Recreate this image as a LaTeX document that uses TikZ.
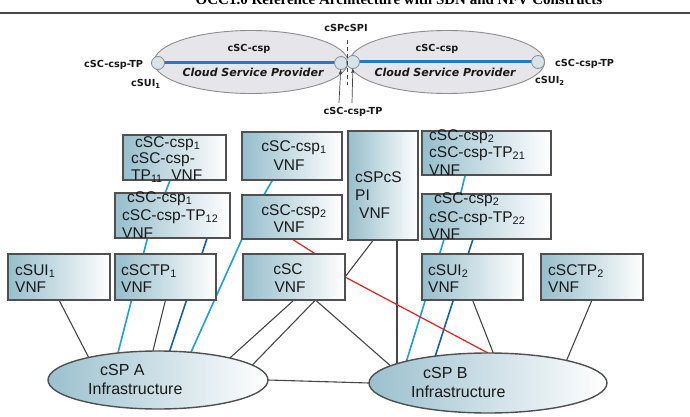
\documentclass[tikz,border=0pt]{standalone}
\usepackage{fontspec}
\setmainfont{Liberation Sans}
\newfontfamily\lblfont{DejaVu Sans}
\newfontfamily\titlefont{Liberation Serif}
\usetikzlibrary{shapes.geometric,arrows.meta}
\definecolor{boxD}{RGB}{80,80,80}
\definecolor{boxL}{RGB}{150,190,204}
\definecolor{ellL}{RGB}{155,192,206}
\definecolor{lineG}{RGB}{70,70,70}
\definecolor{lblue}{RGB}{25,160,225}
\definecolor{dblue}{RGB}{20,95,175}
\definecolor{redL}{RGB}{230,30,30}
\definecolor{topFill}{RGB}{230,230,234}
\definecolor{topDraw}{RGB}{140,140,145}
\definecolor{topBlue}{RGB}{40,120,200}
\definecolor{circFill}{RGB}{212,228,235}
\definecolor{txtC}{RGB}{25,25,25}
\pgfdeclarelayer{bg}
\pgfsetlayers{bg,main}
\begin{document}
\begin{tikzpicture}[x=1pt,y=-1pt,
  vbox/.style={draw=boxD, line width=1.4pt, left color=boxL, right color=white, inner sep=0pt, outer sep=0pt, rectangle},
  infra/.style={ellipse, draw=boxD, line width=1.4pt, left color=ellL, right color=white, inner sep=0pt, outer sep=0pt},
  tell/.style={ellipse, draw=topDraw, line width=0.9pt, fill=topFill, inner sep=0pt, outer sep=0pt},
  tp/.style={circle, draw=topDraw, line width=0.8pt, fill=circFill, minimum size=13pt, inner sep=0pt, outer sep=0pt},
  txt/.style={inner sep=0pt, anchor=base west, text=txtC, font=\fontsize{15.5}{18}\selectfont},
  itxt/.style={inner sep=0pt, anchor=base west, text=txtC, font=\fontsize{16}{19}\selectfont},
  tl/.style={inner sep=0pt, text=txtC, font=\lblfont\bfseries\fontsize{9.7}{12}\selectfont},
  cspf/.style={inner sep=0pt, anchor=base, text=txtC, font=\lblfont\bfseries\itshape\fontsize{11}{13}\selectfont},
  gl/.style={draw=lineG, line width=1.1pt},
  rl/.style={draw=redL, line width=1.2pt},
  lb/.style={draw=lblue, line width=1.6pt},
  db/.style={draw=dblue, line width=1.6pt},
  arw/.style={draw=lineG, line width=0.7pt, -{Stealth[length=5pt,width=3.5pt]}},
  dsh/.style={draw=lineG, line width=1pt, dash pattern=on 4pt off 3pt}
]
\useasboundingbox (0,0) rectangle (690,417);

% title and header rule
\node[inner sep=0pt, anchor=base, font=\titlefont\bfseries\fontsize{15}{18}\selectfont] (title) at (399,5) {OCC1.0 Reference Architecture with SDN and NFV Constructs};
\coordinate (hl1) at (0,13);
\coordinate (hl2) at (690,13);
\draw[line width=1.2pt, draw=lineG] (hl1) -- (hl2);

% top ellipses
\node[tell, minimum width=194pt, minimum height=63pt] (tL) at (251,62) {};
\node[tell, minimum width=195pt, minimum height=63pt] (tR) at (447,62) {};
\coordinate (p1) at (158,63);
\coordinate (p2) at (341,63);
\coordinate (p3) at (353,62);
\coordinate (p4) at (538,62);
\draw[draw=topBlue, line width=3pt] (p1) -- (p2);
\draw[draw=topBlue, line width=3pt] (p3) -- (p4);
\node[tp] (c1) at (p1) {};
\node[tp] (c2) at (p2) {};
\node[tp] (c3) at (p3) {};
\node[tp] (c4) at (p4) {};

\node[tl, anchor=base] (cscL) at (249,52) {cSC-csp};
\node[tl, anchor=base] (cscR) at (437,52) {cSC-csp};
\node[cspf] (cspL) at (253,77) {Cloud Service Provider};
\node[cspf] (cspR) at (445,77) {Cloud Service Provider};
\node[tl, anchor=base] (spi) at (346,32) {cSPcSPI};
\node[tl, anchor=base west] (tpL) at (84,68) {cSC-csp-TP};
\node[tl, anchor=base west] (suL) at (131,87) {cSUI\textsubscript{1}};
\node[tl, anchor=base west] (tpR) at (555,67) {cSC-csp-TP};
\node[tl, anchor=base west] (suR) at (535,84) {cSUI\textsubscript{2}};
\node[tl, anchor=base] (tpB) at (353,114) {cSC-csp-TP};

\coordinate (d1) at (347,40);
\coordinate (d2) at (347,85);
\draw[dsh] (d1) -- (d2);
\coordinate (a1) at (339,103);
\coordinate (a2) at (352,103);
\draw[arw] (a1) -- (c2);
\draw[arw] (a2) -- (c3);

% VNF boxes
\node[vbox, minimum width=103pt, minimum height=45pt] (bA) at (174.5,157.5) {};
\node[vbox, minimum width=115pt, minimum height=45pt] (bB) at (172.5,215.5) {};
\node[vbox, minimum width=100pt, minimum height=48pt] (bC) at (292,156) {};
\node[vbox, minimum width=100pt, minimum height=44pt] (bD) at (292,217) {};
\node[vbox, minimum width=70pt, minimum height=109pt] (bE) at (383,185.5) {};
\node[vbox, minimum width=129pt, minimum height=44pt] (bF) at (486.5,153) {};
\node[vbox, minimum width=129pt, minimum height=45pt] (bG) at (486.5,216.5) {};
\node[vbox, minimum width=102pt, minimum height=46pt] (bH) at (59,277) {};
\node[vbox, minimum width=101pt, minimum height=46pt] (bI) at (165.5,277) {};
\node[vbox, minimum width=102pt, minimum height=46pt] (bJ) at (294,277) {};
\node[vbox, minimum width=101pt, minimum height=46pt] (bK) at (472.5,277) {};
\node[vbox, minimum width=102pt, minimum height=46pt] (bL) at (592,277) {};

% infrastructure ellipses
\node[infra, minimum width=220pt, minimum height=58pt] (eA) at (158,380) {};
\node[infra, minimum width=238pt, minimum height=60pt] (eB) at (488,383) {};

% box texts
\node[txt] (tA1) at (135,147) {cSC-csp\textsubscript{1}};
\node[txt] (tA2) at (131,163) {cSC-csp-};
\node[txt] (tA3) at (131,180) {TP\textsubscript{11}\ \ VNF};
\node[txt] (tB1) at (127,202) {cSC-csp\textsubscript{1}};
\node[txt] (tB2) at (122,220) {cSC-csp-TP\textsubscript{12}};
\node[txt] (tB3) at (122,238) {VNF};
\node[txt, anchor=base] (tC1) at (294,151) {cSC-csp\textsubscript{1}};
\node[txt, anchor=base] (tC2) at (289,170) {VNF};
\node[txt, anchor=base] (tD1) at (294,215) {cSC-csp\textsubscript{2}};
\node[txt, anchor=base] (tD2) at (289,232) {VNF};
\node[txt] (tE1) at (355,182) {cSPcS};
\node[txt] (tE2) at (355,200) {PI};
\node[txt] (tE3) at (359,218) {VNF};
\node[txt] (tF1) at (429,140) {cSC-csp\textsubscript{2}};
\node[txt] (tF2) at (429,157) {cSC-csp-TP\textsubscript{21}};
\node[txt] (tF3) at (429,175) {VNF};
\node[txt] (tG1) at (434,203) {cSC-csp\textsubscript{2}};
\node[txt] (tG2) at (429,222) {cSC-csp-TP\textsubscript{22}};
\node[txt] (tG3) at (429,239) {VNF};
\node[txt] (tH1) at (15,275) {cSUI\textsubscript{1}};
\node[txt] (tH2) at (15,292) {VNF};
\node[txt] (tI1) at (121,275) {cSCTP\textsubscript{1}};
\node[txt] (tI2) at (121,292) {VNF};
\node[txt, anchor=base] (tJ1) at (288,274) {cSC};
\node[txt, anchor=base] (tJ2) at (290,292) {VNF};
\node[txt] (tK1) at (428,275) {cSUI\textsubscript{2}};
\node[txt] (tK2) at (428,292) {VNF};
\node[txt] (tL1) at (548,275) {cSCTP\textsubscript{2}};
\node[txt] (tL2) at (548,292) {VNF};
\node[itxt] (tEA1) at (100,375) {cSP A};
\node[itxt] (tEA2) at (88,394) {Infrastructure};
\node[itxt] (tEB1) at (423,378) {cSP B};
\node[itxt] (tEB2) at (411,397) {Infrastructure};

% connectors (behind boxes)
\begin{pgfonlayer}{bg}
\draw[gl] (bH.south) -- (eA.162);
\draw[gl] (bI.south) -- (eA.100);
\draw[gl] (bJ.south) -- (eA.17);
\draw[gl] (bJ.-47.6) -- (eA.9.6);
\draw[gl] (bJ.-47.6) -- (eB.170.4);
\draw[gl] (eA.east) -- (eB.west);
\draw[gl] (bE.-100.4) -- (bJ.east);
\draw[gl] (bE.south -| eB.168) -- (eB.168);
\draw[gl] (bK.south) -- (eB.80);
\draw[gl] (bL.south) -- (eB.16);
\draw[lb] (bA.-101.3) -- (bB.108.4);
\draw[lb] (bC.-129.8) -- (bD.142.8);
\draw[lb] (bB.-138) -- (eA.146.6);
\draw[db] (bB.-33.5) -- (eA.68);
\draw[lb] (bD.south west) -- (eA.40);
\draw[lb] (bF.-134.3) -- (bG.139.7);
\draw[lb] (bG.-152.6) -- (eB.165.8);
\draw[db] (bG.-121) -- (eB.153);
\draw[rl] (bD.south) -- (bJ.47.6);
\draw[rl] (bJ.east) -- (eB.north);
\end{pgfonlayer}
\end{tikzpicture}
\end{document}
